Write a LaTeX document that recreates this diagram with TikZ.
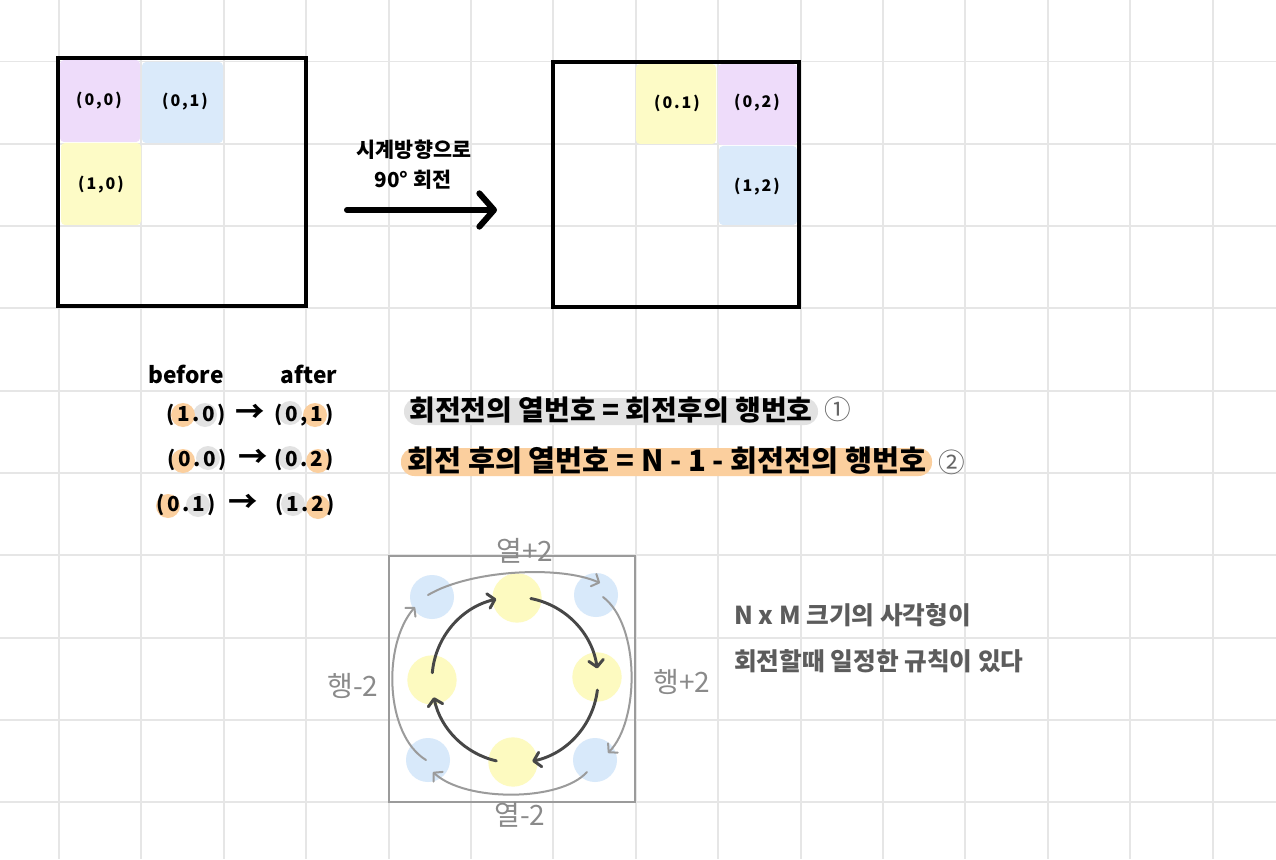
\documentclass[tikz,border=0pt]{standalone}
\usepackage{fontspec}
\usetikzlibrary{arrows.meta}
\newfontfamily\kr{Noto Sans CJK KR}
\newfontfamily\krls[LetterSpace=12]{Noto Sans CJK KR}
\definecolor{gridc}{HTML}{E6E6E6}
\definecolor{purp}{HTML}{EEDCFA}
\definecolor{cellblue}{HTML}{DAEAFA}
\definecolor{yell}{HTML}{FDFBC6}
\definecolor{orng}{HTML}{FBCF9E}
\definecolor{grayh}{HTML}{E2E2E2}
\definecolor{cblue}{HTML}{D8E9FA}
\definecolor{cyell}{HTML}{FDFAC0}
\definecolor{sqgray}{HTML}{9B9B9B}
\definecolor{darkarr}{HTML}{474747}
\definecolor{sidetxt}{HTML}{5C5C5C}
\definecolor{lblgray}{HTML}{8A8A8A}
\definecolor{numgray}{HTML}{666666}
\begin{document}
\begin{tikzpicture}[x=0.75pt,y=-0.75pt,
  gridline/.style={draw=gridc,line width=1.4pt},
  boxline/.style={draw=black,line width=3pt},
  cellfill/.style={rounded corners=3pt},
  celllbl/.style={font=\krls\bfseries\fontsize{12}{14}\selectfont,inner sep=0pt},
  capt/.style={font=\kr\bfseries\fontsize{15.5}{17}\selectfont,inner sep=0pt},
  bigarrow/.style={line width=4.5pt,line cap=round,-{Straight Barb[round,length=11pt,width=25pt]}},
  balbl/.style={font=\kr\bfseries\fontsize{17}{19}\selectfont,inner sep=0pt},
  pair/.style={font=\krls\bfseries\fontsize{15.5}{17}\selectfont,inner sep=0pt},
  arrtxt/.style={font=\kr\bfseries\fontsize{22}{24}\selectfont,inner sep=0pt},
  hl/.style={circle,inner sep=0pt,minimum size=18pt},
  eqa/.style={font=\kr\bfseries\fontsize{21}{23}\selectfont,inner sep=0pt},
  eqb/.style={font=\kr\bfseries\fontsize{22}{24}\selectfont,inner sep=0pt},
  circnum/.style={font=\kr\fontsize{20}{22}\selectfont,text=numgray,inner sep=0pt},
  sqline/.style={draw=sqgray,line width=1.5pt},
  bdot/.style={circle,fill=cblue,minimum size=33pt,inner sep=0pt},
  ydot/.style={circle,fill=cyell,minimum size=37pt,inner sep=0pt},
  inarr/.style={draw=darkarr,line width=2.2pt,line cap=round,-{Straight Barb[round,length=5pt,width=11pt]}},
  outarr/.style={draw=sqgray,line width=1.5pt,line cap=round,-{Straight Barb[round,length=4.5pt,width=10pt]}},
  glbl/.style={font=\kr\fontsize{21}{23}\selectfont,text=lblgray,inner sep=0pt},
  side/.style={font=\kr\bfseries\fontsize{18.5}{20}\selectfont,text=sidetxt,inner sep=0pt,anchor=west}]
\useasboundingbox (0,0) rectangle (1276,859);
\fill[white] (0,0) rectangle (1276,859);
% grid
\foreach \i in {0,...,14} \draw[gridline] ({59+82.4*\i},0) -- ({59+82.4*\i},859);
\foreach \j in {0,...,9} \draw[gridline] (0,{61.5+82.3*\j}) -- (1276,{61.5+82.3*\j});

% left box
\fill[purp,cellfill] (60,60) rectangle (140,142);
\fill[cellblue,cellfill] (142,62) rectangle (223,143);
\fill[yell,cellfill] (61,143) rectangle (141,225);
\draw[boxline] (58,58) rectangle (306,306);
\node[celllbl] (l00) at (99,101) {(0,0)};
\node[celllbl] (l01) at (185,102) {(0,1)};
\node[celllbl] (l10) at (101,185) {(1,0)};

% right box
\fill[yell,cellfill] (636,64) rectangle (716,144);
\fill[purp,cellfill] (718,64) rectangle (797,145);
\fill[cellblue,cellfill] (719,146) rectangle (797,225);
\draw[boxline] (553,62) rectangle (799,307);
\node[celllbl] (r01) at (677,103) {(0.1)};
\node[celllbl] (r02) at (757,103) {(0,2)};
\node[celllbl] (r12) at (757,187) {(1,2)};

% rotation arrow
\node[capt] (cap1) at (414,150) {시계방향으로};
\node[capt] (cap2) at (413,180) {90° 회전};
\coordinate (arrS) at (347,210);
\coordinate (arrE) at (497,210);
\draw[bigarrow] (arrS) -- (arrE);

% before / after
\node[balbl] (hb) at (186,374) {before};
\node[balbl] (ha) at (309,374) {after};
\node[hl,fill=grayh] at (205,415) {};
\node[hl,fill=orng] at (183,415) {};
\node[hl,fill=grayh] at (290,413) {};
\node[hl,fill=orng] at (315,415) {};
\node[hl,fill=grayh] at (208,458) {};
\node[hl,fill=orng] at (183,461) {};
\node[hl,fill=grayh] at (290,458) {};
\node[hl,fill=orng] at (318,461) {};
\node[hl,fill=grayh] at (198,505) {};
\node[hl,fill=orng] at (168,506) {};
\node[hl,fill=grayh] at (293,504) {};
\node[hl,fill=orng] at (318,507) {};
\node[pair] (b1) at (196,415) {(1.0)};
\node[pair] (a1) at (304,415) {(0,1)};
\node[pair] (b2) at (197,460) {(0.0)};
\node[pair] (a2) at (304,460) {(0.2)};
\node[pair] (b3) at (186,505) {(0.1)};
\node[pair] (a3) at (305,505) {(1.2)};
\node[arrtxt] (t1) at (250,413) {→};
\node[arrtxt] (t2) at (253,458) {→};
\node[arrtxt] (t3) at (243,503) {→};

% equations
\fill[grayh,rounded corners=10pt] (404,398) rectangle (818,425);
\fill[orng,rounded corners=10pt] (401,448) rectangle (932,476);
\node[eqa] (eq1) at (611,410) {회전전의 열번호 = 회전후의 행번호};
\node[eqb] (eq2) at (667,461) {회전 후의 열번호 = N - 1 - 회전전의 행번호};
\node[circnum] (n1) at (838,409) {①};
\node[circnum] (n2) at (952,462) {②};

% rotation pattern diagram
\draw[sqline] (389,556) rectangle (635,802);
\node[bdot] (c1) at (432,597) {};
\node[bdot] (c2) at (596,595) {};
\node[bdot] (c3) at (595,760) {};
\node[bdot] (c4) at (428,760) {};
\node[ydot] (y1) at (517,598) {};
\node[ydot] (y2) at (597,677) {};
\node[ydot] (y3) at (513,762) {};
\node[ydot] (y4) at (432,680) {};
\coordinate (ic) at (515,680);
\draw[inarr] (ic) ++(-175:83) arc[start angle=-175,end angle=-103,radius=83];
\draw[inarr] (ic) ++(-79:83) arc[start angle=-79,end angle=-8,radius=83];
\draw[inarr] (ic) ++(7:83) arc[start angle=7,end angle=78,radius=83];
\draw[inarr] (ic) ++(103:83) arc[start angle=103,end angle=168,radius=83];
\coordinate (o1s) at (428,595);
\coordinate (o1e) at (600,583);
\coordinate (o2s) at (603,597);
\coordinate (o2e) at (608,753);
\coordinate (o3s) at (587,772);
\coordinate (o3e) at (433,772);
\coordinate (o4s) at (426,760);
\coordinate (o4e) at (415,607);
\draw[outarr] (o1s) .. controls (470,570) and (560,565) .. (o1e);
\draw[outarr] (o2s) .. controls (640,625) and (640,720) .. (o2e);
\draw[outarr] (o3s) .. controls (560,802) and (465,802) .. (o3e);
\draw[outarr] (o4s) .. controls (385,735) and (382,645) .. (o4e);
\node[glbl] (g1) at (525,551) {열+2};
\node[glbl] (g2) at (682,682) {행+2};
\node[glbl] (g3) at (353,686) {행-2};
\node[glbl] (g4) at (520,815) {열-2};

% side note
\node[side] (s1) at (734,615) {N x M 크기의 사각형이};
\node[side] (s2) at (734,661) {회전할때 일정한 규칙이 있다};
\end{tikzpicture}
\end{document}
